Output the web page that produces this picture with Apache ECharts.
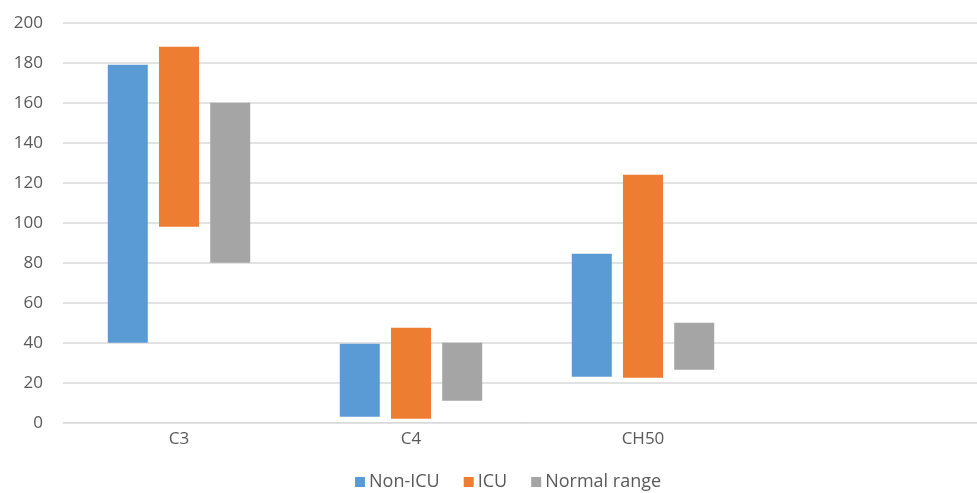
<!DOCTYPE html>
<html>
<head>
<meta charset="utf-8">
<script src="https://cdn.jsdelivr.net/npm/echarts@6/dist/echarts.min.js"></script>
<style>html,body{margin:0;padding:0;background:#fff;}#c{width:977px;height:493px;}</style>
</head>
<body>
<div id="c"></div>
<script>
const categories = ['C3', 'C4', 'CH50', ''];
const seriesNames = ['Non-ICU', 'ICU', 'Normal range'];
const nonIcuLow  = [40, 3, 23, null];
const nonIcuHigh = [179, 39.5, 84.5, null];
const icuLow     = [98, 2, 22.5, null];
const icuHigh    = [188, 47.5, 124, null];
const normalLow  = [80, 11, 26.5, null];
const normalHigh = [160, 40, 50, null];
const yTicks = [0, 20, 40, 60, 80, 100, 120, 140, 160, 180, 200];

const colors = ['#5b9bd5', '#ed7d31', '#a5a5a5'];
const lows = [nonIcuLow, icuLow, normalLow];
const highs = [nonIcuHigh, icuHigh, normalHigh];

const series = [];
seriesNames.forEach((name, i) => {
  series.push({
    name: name + '_base', type: 'bar', stack: 's' + i,
    data: lows[i], barWidth: 40, barGap: '28%',
    itemStyle: { color: 'rgba(0,0,0,0)' }, silent: true,
    emphasis: { disabled: true }
  });
  series.push({
    name: name, type: 'bar', stack: 's' + i,
    data: highs[i].map((h, k) => h == null ? null : h - lows[i][k]),
    barWidth: 40, barGap: '28%',
    itemStyle: { color: colors[i] }
  });
});

const chart = echarts.init(document.getElementById('c'));
chart.setOption({
  animation: false,
  textStyle: { fontFamily: 'Open Sans' },
  grid: { left: 63, top: 22.7, width: 928, height: 400, outerBoundsMode: 'none', containLabel: false },
  legend: {
    data: seriesNames.map((n, i) => ({ name: n, itemStyle: { color: colors[i] } })),
    left: 350, top: 468,
    itemWidth: 10, itemHeight: 10, itemGap: 24,
    icon: 'rect',
    textStyle: { color: '#595959', fontSize: 18, fontFamily: 'Open Sans', padding: [0, 0, 0, -1] }
  },
  xAxis: {
    type: 'category', data: categories,
    axisLine: { show: true, lineStyle: { color: '#d9d9d9', width: 1 } },
    axisTick: { show: false },
    axisLabel: { color: '#595959', fontSize: 17, margin: 8, fontFamily: 'Open Sans' }
  },
  yAxis: {
    type: 'value', min: 0, max: 200, interval: 20,
    axisLine: { show: false }, axisTick: { show: false },
    splitLine: { lineStyle: { color: '#d9d9d9', width: 1.5 } },
    axisLabel: { color: '#595959', fontSize: 17, margin: 20, fontFamily: 'Open Sans',
      formatter: v => yTicks.includes(v) ? String(v) : '' }
  },
  series: series
});
</script>
</body>
</html>
